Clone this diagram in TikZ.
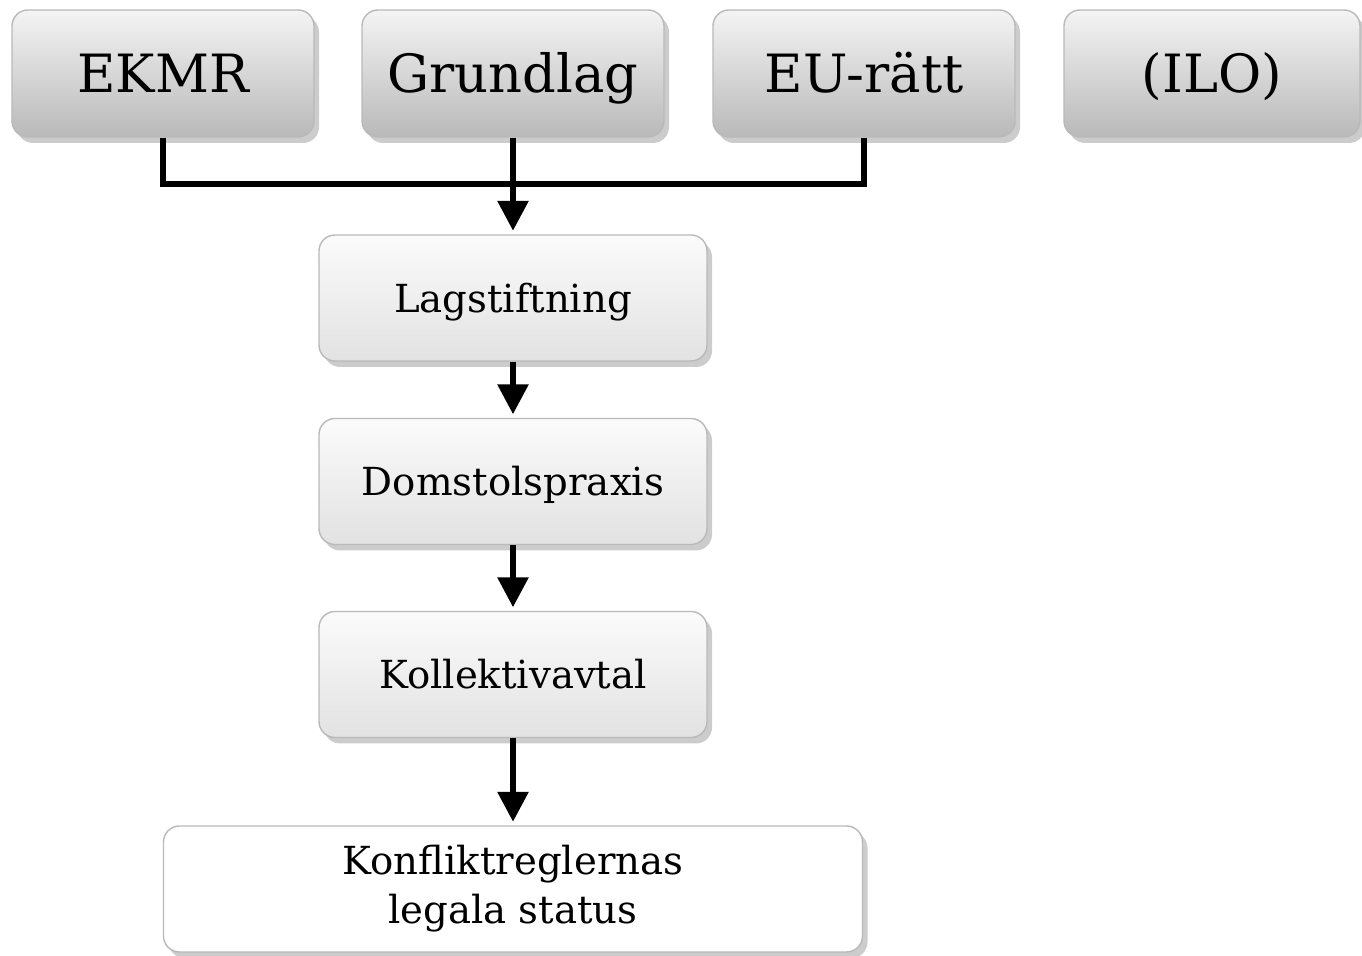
\documentclass[tikz,border=0pt]{standalone}
\usepackage{fontspec}
\setmainfont{DejaVu Serif}
\usetikzlibrary{arrows.meta,shadows}
\definecolor{boxtop}{HTML}{F4F4F4}
\definecolor{boxbot}{HTML}{B9B9B9}
\definecolor{midtop}{HTML}{FBFBFB}
\definecolor{midbot}{HTML}{E2E2E2}
\tikzset{
	source/.style = {draw = gray!55, rounded corners = 0.16cm, top color = boxtop, bottom color = boxbot, minimum width = 3.02cm, minimum height = 1.27cm, font = \fontsize{15}{18}\selectfont, text height = 10.9pt, text depth = 0pt, drop shadow = {shadow xshift = 0.05cm, shadow yshift = -0.06cm, fill = gray, opacity = .4}},
	level/.style = {draw = gray!55, rounded corners = 0.16cm, top color = midtop, bottom color = midbot, minimum width = 3.88cm, minimum height = 1.26cm, font = \fontsize{11}{14}\selectfont, text height = 8pt, text depth = 0pt, drop shadow = {shadow xshift = 0.05cm, shadow yshift = -0.06cm, fill = gray, opacity = .4}},
	result/.style = {draw = gray!55, rounded corners = 0.16cm, fill = white, minimum width = 6.99cm, minimum height = 1.26cm, align = center, font = \fontsize{11}{14}\selectfont, drop shadow = {shadow xshift = 0.05cm, shadow yshift = -0.06cm, fill = gray, opacity = .4}},
	flow/.style = {line width = 1.7pt, -{Triangle[width = 8.5pt, length = 8.5pt]}, shorten > = 1pt}
}
\begin{document}
\begin{tikzpicture}
		\useasboundingbox (0,0) rectangle (13.62, 9.56);
		% rättskällor
		\node [source] (ekmr) at (1.63, 8.825) {EKMR};
		\node [source] (grundlag) at (5.13, 8.825) {Grundlag};
		\node [source] (eurätt) at (8.64, 8.825) {EU-rätt};
		\node [source, minimum width = 2.96cm] (ilo) at (12.12, 8.825) {(ILO)};
		
		\node [level] (lag) at (5.13, 6.58) {Lagstiftning};
		\node [level] (praxis) at (5.13, 4.745) {Domstolspraxis};
		\node [level] (avtal) at (5.13, 2.815) {Kollektivavtal};
		\node [result] (status) at (5.13, 0.67) {Konfliktreglernas\\legala status};
		
		\coordinate (join) at (5.13, 7.72);
		\draw [line width = 1.7pt] (ekmr.south) |- (join) -| (eurätt.south);
		\draw [flow] (grundlag.south) -- (lag.north);
		\draw [flow] (lag.south) -- (praxis.north);
		\draw [flow] (praxis.south) -- (avtal.north);
		\draw [flow] (avtal.south) -- (status.north);
		
		\end{tikzpicture}
\end{document}
